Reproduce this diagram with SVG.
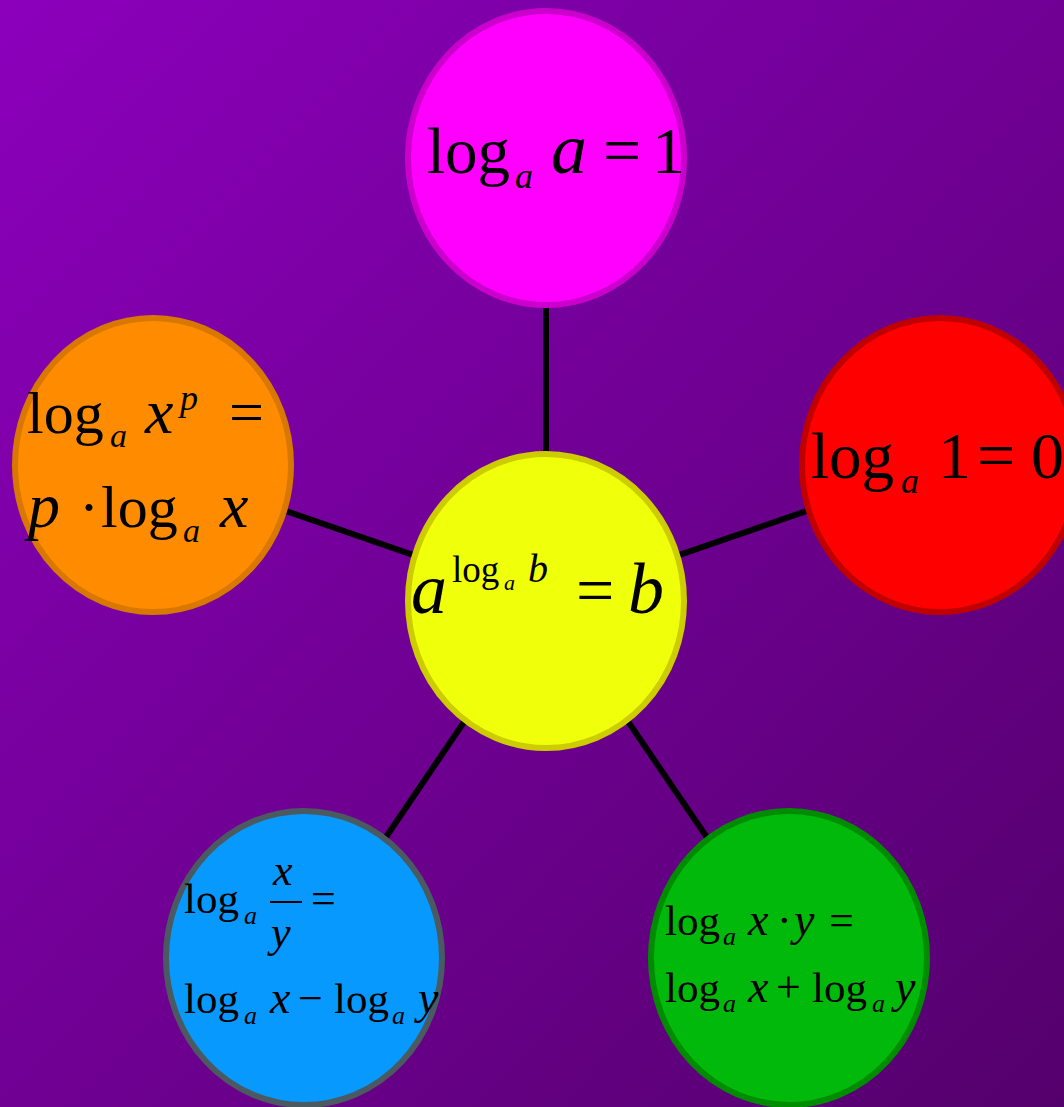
<svg xmlns="http://www.w3.org/2000/svg" width="1064" height="1107" viewBox="0 0 1064 1107">
<defs>
<linearGradient id="bg" x1="0" y1="0" x2="1" y2="1">
<stop offset="0" stop-color="#8c00bc"/>
<stop offset="1" stop-color="#54006c"/>
</linearGradient>
<style>
.n{stroke-width:6}
.r{font-family:"Liberation Serif","Times New Roman",serif;font-style:normal;fill:#000}
.i{font-family:"Liberation Serif","Times New Roman",serif;font-style:italic;fill:#000}
.c{stroke:#000;stroke-width:6;fill:none}
</style>
</defs>
<rect width="1064" height="1107" fill="url(#bg)"/>
<g id="connectors">
<line class="c" x1="546" y1="601" x2="546" y2="158"/>
<line class="c" x1="546" y1="601" x2="940" y2="465"/>
<line class="c" x1="546" y1="601" x2="153" y2="465"/>
<line class="c" x1="546" y1="601" x2="304" y2="958"/>
<line class="c" x1="546" y1="601" x2="789" y2="958"/>
</g>
<g id="node-top">
<ellipse class="n" cx="546" cy="158" rx="138" ry="147" fill="#ff00ff" stroke="#cc00cc"/>
<text class="r" x="427" y="173" font-size="65">log</text>
<text class="i" x="515" y="188" font-size="36">a</text>
<text class="i" x="551" y="173" font-size="72">a</text>
<text class="r" x="603" y="173" font-size="68">=</text>
<text class="r" x="652" y="173" font-size="66">1</text>
</g>
<g id="node-right">
<ellipse class="n" cx="940" cy="465" rx="138" ry="147" fill="#ff0000" stroke="#c00000"/>
<text class="r" x="811" y="478" font-size="65">log</text>
<text class="i" x="901" y="493" font-size="36">a</text>
<text class="r" x="938" y="478" font-size="66">1</text>
<text class="r" x="977" y="478" font-size="68">=</text>
<text class="r" x="1031" y="478" font-size="66">0</text>
</g>
<g id="node-left">
<ellipse class="n" cx="153" cy="465" rx="138" ry="147" fill="#ff8c00" stroke="#d87800"/>
<text class="r" x="27" y="433" font-size="60">log</text>
<text class="i" x="110" y="447" font-size="34">a</text>
<text class="i" x="145" y="433" font-size="64">x</text>
<text class="i" x="180" y="410" font-size="36">p</text>
<text class="r" x="229" y="433" font-size="62">=</text>
<text class="i" x="28" y="527" font-size="64">p</text>
<text class="r" x="79" y="527" font-size="60">·</text>
<text class="r" x="101" y="527" font-size="60">log</text>
<text class="i" x="183" y="542" font-size="34">a</text>
<text class="i" x="220" y="527" font-size="64">x</text>
</g>
<g id="node-center">
<ellipse class="n" cx="546" cy="601" rx="138" ry="147" fill="#f0ff0a" stroke="#cccc00"/>
<text class="i" x="411" y="613" font-size="72">a</text>
<text class="r" x="452" y="582" font-size="37">log</text>
<text class="i" x="504" y="590" font-size="22">a</text>
<text class="i" x="528" y="582" font-size="40">b</text>
<text class="r" x="576" y="613" font-size="68">=</text>
<text class="i" x="628" y="613" font-size="72">b</text>
</g>
<g id="node-bottom-left">
<ellipse class="n" cx="304" cy="958" rx="138" ry="147" fill="#0899ff" stroke="#4a5a60"/>
<text class="r" x="184" y="913" font-size="43">log</text>
<text class="i" x="244" y="924" font-size="26">a</text>
<text class="i" x="273" y="885" font-size="44">x</text>
<line x1="270" y1="902" x2="302" y2="902" stroke="#000" stroke-width="2"/>
<text class="i" x="271" y="947" font-size="44">y</text>
<text class="r" x="311" y="913" font-size="44">=</text>
<text class="r" x="184" y="1013" font-size="43">log</text>
<text class="i" x="244" y="1024" font-size="26">a</text>
<text class="i" x="270" y="1013" font-size="46">x</text>
<text class="r" x="298" y="1013" font-size="44">−</text>
<text class="r" x="334" y="1013" font-size="43">log</text>
<text class="i" x="392" y="1024" font-size="26">a</text>
<text class="i" x="418" y="1013" font-size="46">y</text>
</g>
<g id="node-bottom-right">
<ellipse class="n" cx="789" cy="958" rx="138" ry="147" fill="#00b90a" stroke="#008c00"/>
<text class="r" x="665" y="935" font-size="43">log</text>
<text class="i" x="723" y="945" font-size="26">a</text>
<text class="i" x="748" y="935" font-size="46">x</text>
<text class="r" x="777" y="935" font-size="44">·</text>
<text class="i" x="794" y="935" font-size="46">y</text>
<text class="r" x="829" y="935" font-size="44">=</text>
<text class="r" x="665" y="1002" font-size="43">log</text>
<text class="i" x="723" y="1012" font-size="26">a</text>
<text class="i" x="748" y="1002" font-size="46">x</text>
<text class="r" x="776" y="1002" font-size="44">+</text>
<text class="r" x="812" y="1002" font-size="43">log</text>
<text class="i" x="872" y="1012" font-size="26">a</text>
<text class="i" x="895" y="1002" font-size="46">y</text>
</g>
</svg>
